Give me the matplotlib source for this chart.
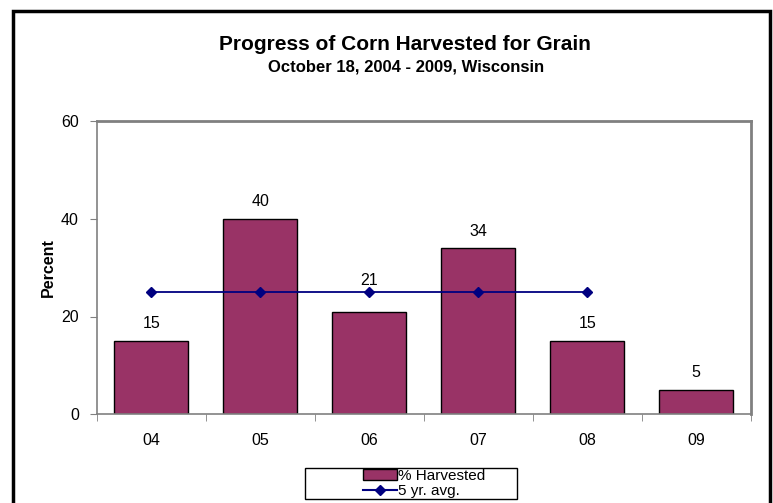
import numpy as np
import matplotlib
matplotlib.use('Agg')
import matplotlib.pyplot as plt
from matplotlib.patches import Rectangle, Patch
from matplotlib.lines import Line2D

plt.rcParams['font.family'] = ['Liberation Sans', 'DejaVu Sans']

years = ['04', '05', '06', '07', '08', '09']
harvested = [15, 40, 21, 34, 15, 5]
avg_years = ['04', '05', '06', '07', '08']
avg5 = [25, 25, 25, 25, 25]

W, H = 773, 503
fig = plt.figure(figsize=(W / 100, H / 100), dpi=100)
ax = fig.add_axes([97 / W, 1 - 414 / H, (750.5 - 97) / W, (414 - 121.5) / H])

x = np.arange(len(years))
ax.bar(x, harvested, width=0.68, color='#993366', edgecolor='black', linewidth=1, zorder=2)
xa = np.arange(len(avg_years))
ax.plot(xa, avg5, color='#000080', marker='D', markersize=5, linewidth=1.3, zorder=3)

# data labels; the one for 06 sits above the avg line in the original
for i, (xi, v) in enumerate(zip(x, harvested)):
    y = v + 3.5
    if i == 2:
        y = 27.4
    ax.text(xi, y, str(v), ha='center', va='center', fontsize=11.5)

ax.set_xlim(-0.5, len(years) - 0.5)
ax.set_ylim(0, 60)
ax.set_yticks([0, 20, 40, 60])
ax.set_xticks(x)
ax.set_xticklabels(years)
ax.set_xticks(np.arange(-0.5, len(years)), minor=True)
ax.tick_params(axis='x', which='major', length=0, pad=14, labelsize=11.5)
ax.tick_params(axis='x', which='minor', length=5, color='#808080', direction='out')
ax.tick_params(axis='y', length=5, color='#808080', labelsize=11.5, pad=8)
for s in ax.spines.values():
    s.set_color('#808080')
    s.set_linewidth(1.2)
ax.spines['top'].set_linewidth(2)
ax.spines['right'].set_linewidth(2)
ax.set_ylabel('Percent', fontsize=11.5, fontweight='bold', labelpad=4)

fig.text(405 / W, 1 - 45 / H, 'Progress of Corn Harvested for Grain', ha='center', va='center',
         fontsize=15, fontweight='bold')
fig.text(406 / W, 1 - 67 / H, 'October 18, 2004 - 2009, Wisconsin', ha='center', va='center',
         fontsize=12, fontweight='bold')

# outer chart frame
fig.patches.append(Rectangle((13 / W, -0.02), (770 - 13) / W, 1.02 - 11 / H, transform=fig.transFigure,
                             fill=False, edgecolor='black', linewidth=2.5))

# legend box
fig.patches.append(Rectangle((305 / W, 1 - 499 / H), (517 - 305) / W, (499 - 468) / H,
                             transform=fig.transFigure, fill=False, edgecolor='black', linewidth=1))
handles = [Patch(facecolor='#993366', edgecolor='black', label='% Harvested'),
           Line2D([0], [0], color='#000080', marker='D', markersize=5, label='5 yr. avg.')]
fig.legend(handles=handles, loc='center left', bbox_to_anchor=(363 / W, 1 - 483.5 / H), frameon=False,
           fontsize=11, handlelength=2.2, handleheight=0.8, labelspacing=0.1, borderpad=0,
           borderaxespad=0, handletextpad=0.1)

fig.savefig('out.png', dpi=100)
